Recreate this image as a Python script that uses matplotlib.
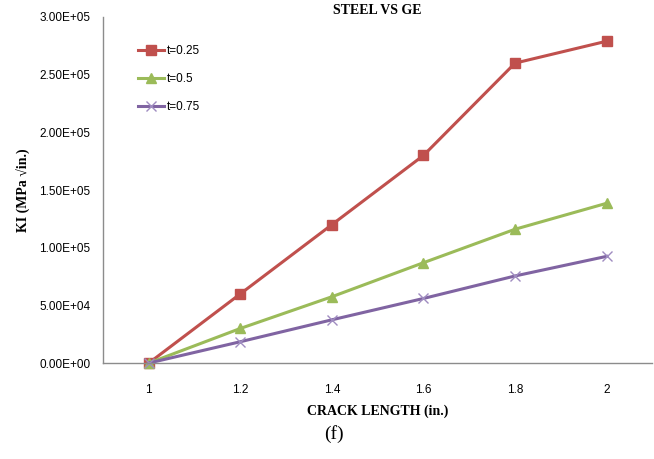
import matplotlib.pyplot as plt
import numpy as np

# data
crack_length = ['1', '1.2', '1.4', '1.6', '1.8', '2']
k_t025 = [0, 60000, 120000, 180000, 260000, 279000]
k_t05 = [0, 30000, 57500, 87000, 116000, 138500]
k_t075 = [0, 18500, 37500, 56000, 75500, 92500]
y_ticks = [0, 50000, 100000, 150000, 200000, 250000, 300000]

red = '#C0504D'
green = '#9BBB59'
purple = '#8064A2'

fig = plt.figure(figsize=(6.54, 4.59), dpi=100)
ax = fig.add_axes([0.1575, 0.209, 0.84, 0.754])

x = np.arange(len(crack_length))
ax.plot(x, k_t025, color=red, lw=2.2, marker='s', ms=7, label='t=0.25', clip_on=False)
ax.plot(x, k_t05, color=green, lw=2.2, marker='^', ms=7, label='t=0.5', clip_on=False)
ax.plot(x, k_t075, color=purple, lw=2.2, marker='x', ms=7, mew=1.0,
        mec='#9F8CC0', label='t=0.75', clip_on=False)

ax.set_xlim(-0.5, len(crack_length) - 0.5)
ax.set_ylim(0, 300000)
ax.set_xticks(x)
ax.set_xticklabels(crack_length)
ax.set_yticks(y_ticks)
ax.set_yticklabels(['%.2E' % v for v in y_ticks])
ax.tick_params(length=0, labelsize=8.5)
ax.tick_params(axis='x', pad=15)
ax.tick_params(axis='y', pad=9)
for lbl in ax.get_xticklabels() + ax.get_yticklabels():
    lbl.set_fontfamily('Liberation Sans')

for s in ['top', 'right']:
    ax.spines[s].set_visible(False)
for s in ['left', 'bottom']:
    ax.spines[s].set_color('#8c8c8c')
    ax.spines[s].set_linewidth(1.0)

serif = 'Liberation Serif'
ax.set_title('STEEL VS GE', fontsize=10, fontweight='bold', fontfamily=serif, pad=-2)
ax.set_xlabel('CRACK LENGTH (in.)', fontsize=10, fontweight='bold', fontfamily=serif, labelpad=6)
ax.set_ylabel('KI (MPa \u221ain.)', fontsize=10, fontweight='bold', fontfamily=serif, labelpad=6)
fig.text(0.51, 0.055, '(f)', ha='center', va='center', fontsize=14, fontfamily=serif)

leg = ax.legend(loc='upper left', bbox_to_anchor=(0.045, 0.95), frameon=False,
                prop={'family': 'Liberation Sans', 'size': 8.5},
                labelspacing=1.35, handlelength=2.2, handletextpad=0.2)

fig.savefig('out.png', dpi=100)
